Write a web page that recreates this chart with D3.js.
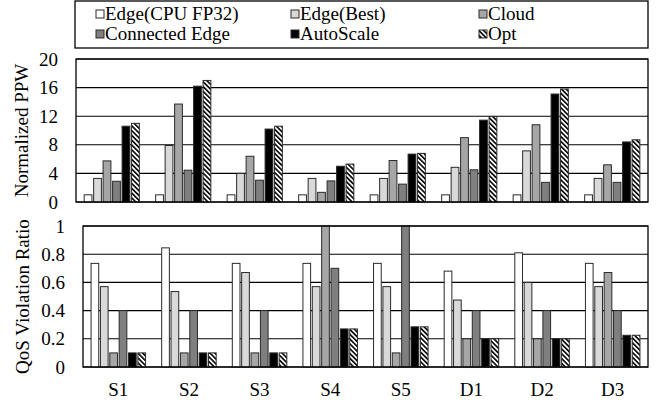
<!DOCTYPE html>
<html>
<head>
<meta charset="utf-8">
<script src="https://cdn.jsdelivr.net/npm/d3@7"></script>
<style>
  body { margin: 0; background: #fff; }
  svg text { font-family: "Liberation Serif", "DejaVu Serif", serif !important; fill: #000; }
</style>
</head>
<body>
<div id="chart"></div>
<script>
// Categories and series
const scenarios = ["S1", "S2", "S3", "S4", "S5", "D1", "D2", "D3"];
const seriesNames = ["Edge(CPU FP32)", "Edge(Best)", "Cloud", "Connected Edge", "AutoScale", "Opt"];

// Normalized PPW, one array per series (S1..D3)
const ppwEdgeCpu   = [1, 1, 1, 1, 1, 1, 1, 1];
const ppwEdgeBest  = [3.3, 7.9, 4.0, 3.3, 3.3, 4.85, 7.15, 3.3];
const ppwCloud     = [5.75, 13.7, 6.4, 1.35, 5.8, 9.0, 10.8, 5.2];
const ppwConnected = [2.9, 4.45, 3.05, 2.95, 2.5, 4.5, 2.75, 2.75];
const ppwAutoScale = [10.6, 16.2, 10.2, 5.0, 6.7, 11.45, 15.1, 8.4];
const ppwOpt       = [11.0, 17.0, 10.6, 5.3, 6.8, 11.95, 15.8, 8.7];

// QoS violation ratio, one array per series (S1..D3)
const qosEdgeCpu   = [0.735, 0.845, 0.735, 0.735, 0.735, 0.68, 0.81, 0.735];
const qosEdgeBest  = [0.57, 0.535, 0.67, 0.57, 0.57, 0.475, 0.6, 0.57];
const qosCloud     = [0.1, 0.1, 0.1, 1.0, 0.1, 0.2, 0.2, 0.67];
const qosConnected = [0.4, 0.4, 0.4, 0.7, 1.0, 0.4, 0.4, 0.4];
const qosAutoScale = [0.1, 0.1, 0.1, 0.27, 0.285, 0.2, 0.2, 0.225];
const qosOpt       = [0.1, 0.1, 0.1, 0.27, 0.285, 0.2, 0.2, 0.225];

const ppwTicks = [0, 4, 8, 12, 16, 20];
const qosTicks = [0, 0.2, 0.4, 0.6, 0.8, 1];

const ppwSeries = [ppwEdgeCpu, ppwEdgeBest, ppwCloud, ppwConnected, ppwAutoScale, ppwOpt];
const qosSeries = [qosEdgeCpu, qosEdgeBest, qosCloud, qosConnected, qosAutoScale, qosOpt];

const fills = ["#ffffff", "#d9d9d9", "#a6a6a6", "#7f7f7f", "#000000", "url(#hatch)"];

const width = 657, height = 404;
const fontStyle = "font-family: 'Liberation Serif', 'DejaVu Serif', serif; font-size: 19px;";

const svg = d3.select("#chart")
    .append("svg")
    .attr("width", width)
    .attr("height", height);

// Hatch pattern for Opt
const pattern = svg.append("defs").append("pattern")
    .attr("id", "hatch")
    .attr("patternUnits", "userSpaceOnUse")
    .attr("width", 3.4)
    .attr("height", 3.4)
    .attr("patternTransform", "rotate(-45)");
pattern.append("rect")
    .attr("width", 3.4).attr("height", 3.4).attr("fill", "#fff");
pattern.append("rect")
    .attr("width", 1.6).attr("height", 3.4).attr("fill", "#000");

// Draws one grouped-bar panel
function drawPanel(seriesData, ticks, maxY, box, showX) {
    const x0 = d3.scaleBand()
        .domain(scenarios)
        .range([box.left, box.right]);
    const x1 = d3.scaleBand()
        .domain(d3.range(seriesNames.length))
        .range([0, x0.bandwidth()])
        .paddingInner(0.18)
        .paddingOuter(0.86);
    const y = d3.scaleLinear()
        .domain([0, maxY])
        .range([box.bottom, box.top]);

    const g = svg.append("g");

    // Grid lines
    g.selectAll("line.grid")
        .data(ticks)
        .enter().append("line")
        .attr("class", "grid")
        .attr("x1", box.left)
        .attr("x2", box.right)
        .attr("y1", d => y(d))
        .attr("y2", d => y(d))
        .attr("stroke", "#000")
        .attr("stroke-width", 1.1);

    // Bars
    seriesData.forEach((values, si) => {
        g.selectAll(null)
            .data(values)
            .enter().append("rect")
            .attr("x", (d, i) => x0(scenarios[i]) + x1(si))
            .attr("y", d => y(d))
            .attr("width", x1.bandwidth())
            .attr("height", d => y(0) - y(d))
            .attr("fill", fills[si])
            .attr("stroke", "#2a2a2a")
            .attr("stroke-width", 1);
    });

    // Frame
    g.append("rect")
        .attr("x", box.left)
        .attr("y", box.top)
        .attr("width", box.right - box.left)
        .attr("height", box.bottom - box.top)
        .attr("fill", "none")
        .attr("stroke", "#000")
        .attr("stroke-width", 1.3);

    // Y axis labels
    const yAxis = d3.axisLeft(y)
        .tickValues(ticks)
        .tickFormat(d => d)
        .tickSize(0)
        .tickPadding(18);
    svg.append("g")
        .attr("transform", `translate(${box.left},0)`)
        .call(yAxis)
        .attr("font-family", null)
        .attr("font-size", null)
        .call(a => a.select(".domain").remove())
        .selectAll("text")
        .attr("style", fontStyle);

    // Y axis title
    svg.append("text")
        .attr("transform", `translate(${box.titleX},${(box.top + box.bottom) / 2}) rotate(-90)`)
        .attr("text-anchor", "middle")
        .attr("dy", "0.35em")
        .attr("style", fontStyle)
        .text(box.title);

    if (showX) {
        const xAxis = d3.axisBottom(x0).tickSize(0).tickPadding(16);
        svg.append("g")
            .attr("transform", `translate(0,${box.bottom})`)
            .call(xAxis)
            .attr("font-family", null)
            .attr("font-size", null)
            .call(a => a.select(".domain").remove())
            .selectAll("text")
            .attr("style", fontStyle);
    }
}

drawPanel(ppwSeries, ppwTicks, 20,
    { left: 76, right: 648, top: 59, bottom: 202, titleX: 21, title: "Normalized PPW" }, false);

drawPanel(qosSeries, qosTicks, 1,
    { left: 83, right: 648, top: 226, bottom: 367, titleX: 22, title: "QoS Violation Ratio" }, true);

// Legend
const legend = svg.append("g");
legend.append("rect")
    .attr("x", 75).attr("y", 1)
    .attr("width", 573).attr("height", 47)
    .attr("fill", "#fff")
    .attr("stroke", "#000")
    .attr("stroke-width", 1.3);

const legendCols = [96, 291, 479];
const legendRows = [14, 34];
seriesNames.forEach((name, i) => {
    const cx = legendCols[i % 3];
    const cy = legendRows[Math.floor(i / 3)];
    legend.append("rect")
        .attr("x", cx)
        .attr("y", cy - 4)
        .attr("width", 8)
        .attr("height", 8)
        .attr("fill", fills[i])
        .attr("stroke", "#2a2a2a")
        .attr("stroke-width", 1);
    legend.append("text")
        .attr("x", cx + 9)
        .attr("y", cy)
        .attr("dy", "0.33em")
        .attr("style", fontStyle)
        .text(name);
});
</script>
</body>
</html>
